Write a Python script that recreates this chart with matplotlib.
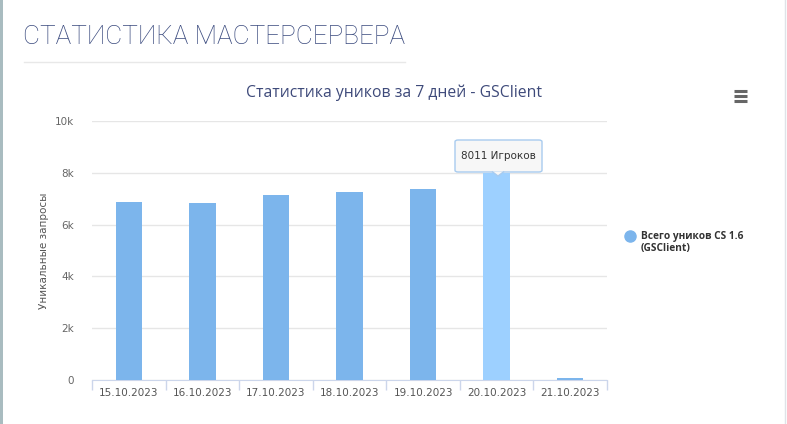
import numpy as np
import matplotlib.pyplot as plt
from matplotlib.patches import FancyBboxPatch, Polygon, Rectangle
from matplotlib.lines import Line2D
from matplotlib.ticker import FuncFormatter, FixedLocator

# Data
dates = ['15.10.2023', '16.10.2023', '17.10.2023', '18.10.2023',
         '19.10.2023', '20.10.2023', '21.10.2023']
players = [6880, 6850, 7140, 7260, 7370, 8011, 80]
hover_idx = 5

page_title = 'СТАТИСТИКА МАСТЕРСЕРВЕРА'
chart_title = 'Статистика уников за 7 дней - GSClient'
y_label = 'Уникальные запросы'
legend_label = ['Всего уников CS 1.6', '(GSClient)']
tooltip_text = '8011 Игроков'

W, H = 787, 424
fig = plt.figure(figsize=(W / 100, H / 100), dpi=100)
fig.patch.set_facecolor('white')

# page frame bits (left border, right border)
fig.add_artist(Rectangle((0, 0), 3 / W, 1, transform=fig.transFigure,
                         color='#a9bcc0', lw=0))
fig.add_artist(Line2D([785 / W, 785 / W], [0, 1], transform=fig.transFigure,
                      color='#dfe3e8', lw=1))

# page header
fig.text(23 / W, 1 - 37 / H, page_title, fontsize=18.8, color='#3a4a7e',
         family='Roboto', fontweight='light', va='center', ha='left')
fig.add_artist(Line2D([24 / W, 405 / W], [1 - 62 / H, 1 - 62 / H],
                      transform=fig.transFigure, color='#e8e8e8', lw=1))

# chart title
fig.text(394 / W, 1 - 93 / H, chart_title, fontsize=11.3, color='#3e4a7a',
         family='Open Sans', ha='center', va='center')

# hamburger menu
for dy in (91, 96, 101):
    fig.add_artist(Line2D([734 / W, 747 / W], [1 - dy / H, 1 - dy / H],
                          transform=fig.transFigure, color='#666666',
                          lw=2.2, solid_capstyle='butt'))

ax = fig.add_axes([92 / W, 1 - 380 / H, 515 / W, 259 / H])
x = np.arange(len(dates))
colors = ['#7cb5ec'] * len(dates)
colors[hover_idx] = '#9dd0ff'
ax.bar(x, players, width=0.36, color=colors, zorder=3)

ax.set_xlim(-0.5, len(dates) - 0.5)
ax.set_ylim(0, 10000)
ax.yaxis.set_major_locator(FixedLocator([0, 2000, 4000, 6000, 8000, 10000]))
ax.yaxis.set_major_formatter(FuncFormatter(
    lambda v, p: '0' if v == 0 else f'{int(v / 1000)}k'))
ax.grid(axis='y', color='#e6e6e6', lw=1, zorder=0)
for s in ('top', 'right', 'left'):
    ax.spines[s].set_visible(False)
ax.spines['bottom'].set_color('#ccd6eb')
ax.tick_params(axis='y', length=0, labelsize=7.5, labelcolor='#666666', pad=13)

ax.set_xticks(x)
ax.set_xticklabels(dates)
ax.tick_params(axis='x', length=0, labelsize=7.5, labelcolor='#555555', pad=6)
ax.set_xticks(np.arange(-0.5, len(dates)), minor=True)
ax.tick_params(axis='x', which='minor', length=7, color='#ccd6eb', width=1)
ax.set_ylabel(y_label, fontsize=7.5, color='#555555', labelpad=4)

# tooltip
box = FancyBboxPatch((455 / W, 1 - 172 / H), 87 / W, 32 / H,
                     boxstyle='round,pad=0,rounding_size=0.004',
                     transform=fig.transFigure, facecolor='#f7f7f7',
                     edgecolor='#a8cbef', lw=1, zorder=10)
fig.add_artist(box)
fig.add_artist(Polygon([(492 / W, 1 - 171.5 / H), (498 / W, 1 - 176 / H),
                        (504 / W, 1 - 171.5 / H)], closed=False,
                       transform=fig.transFigure, facecolor='#f7f7f7',
                       edgecolor='#a8cbef', lw=1, zorder=11))
fig.text(498 / W, 1 - 156 / H, tooltip_text, fontsize=7.5, color='#333333',
         ha='center', va='center', zorder=12)

# legend
fig.add_artist(Line2D([630 / W], [1 - 236 / H], transform=fig.transFigure,
                      marker='o', markersize=8, color='#7cb5ec', lw=0))
fig.text(641 / W, 1 - 236 / H, legend_label[0], fontsize=7.3, color='#333333',
         fontweight='bold', family='Open Sans', va='center')
fig.text(641 / W, 1 - 249 / H, legend_label[1], fontsize=7.3, color='#333333',
         fontweight='bold', family='Open Sans', va='center')

fig.savefig('out.png', dpi=100)
